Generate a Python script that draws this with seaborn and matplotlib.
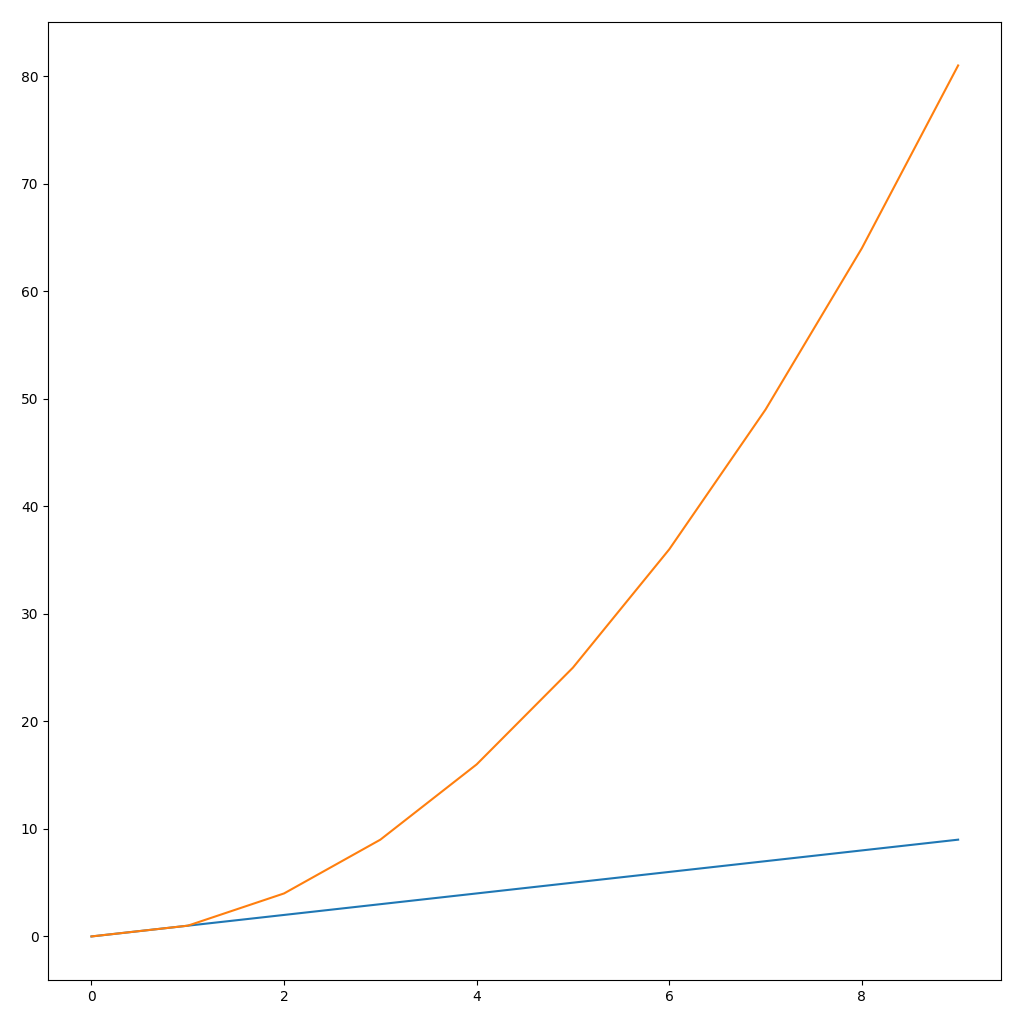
import matplotlib
matplotlib.use('Agg')
import matplotlib.pyplot as plt
import seaborn as sns
import pandas as pd

# Values
x_values = [0, 1, 2, 3, 4, 5, 6, 7, 8, 9]
linear = [0, 1, 2, 3, 4, 5, 6, 7, 8, 9]
squares = [0, 1, 4, 9, 16, 25, 36, 49, 64, 81]

df = pd.DataFrame({'x': x_values, 'linear': linear, 'squares': squares})

fig = plt.figure(figsize=(10.24, 10.28), dpi=100)
ax = fig.add_axes([0.047, 0.0467, 0.931, 0.932])

sns.lineplot(data=df, x='x', y='linear', ax=ax, color='tab:blue', linewidth=1.5)
sns.lineplot(data=df, x='x', y='squares', ax=ax, color='tab:orange', linewidth=1.5)

ax.set_xlabel('')
ax.set_ylabel('')
ax.tick_params(labelsize=10)

fig.savefig('out.png', dpi=100)
